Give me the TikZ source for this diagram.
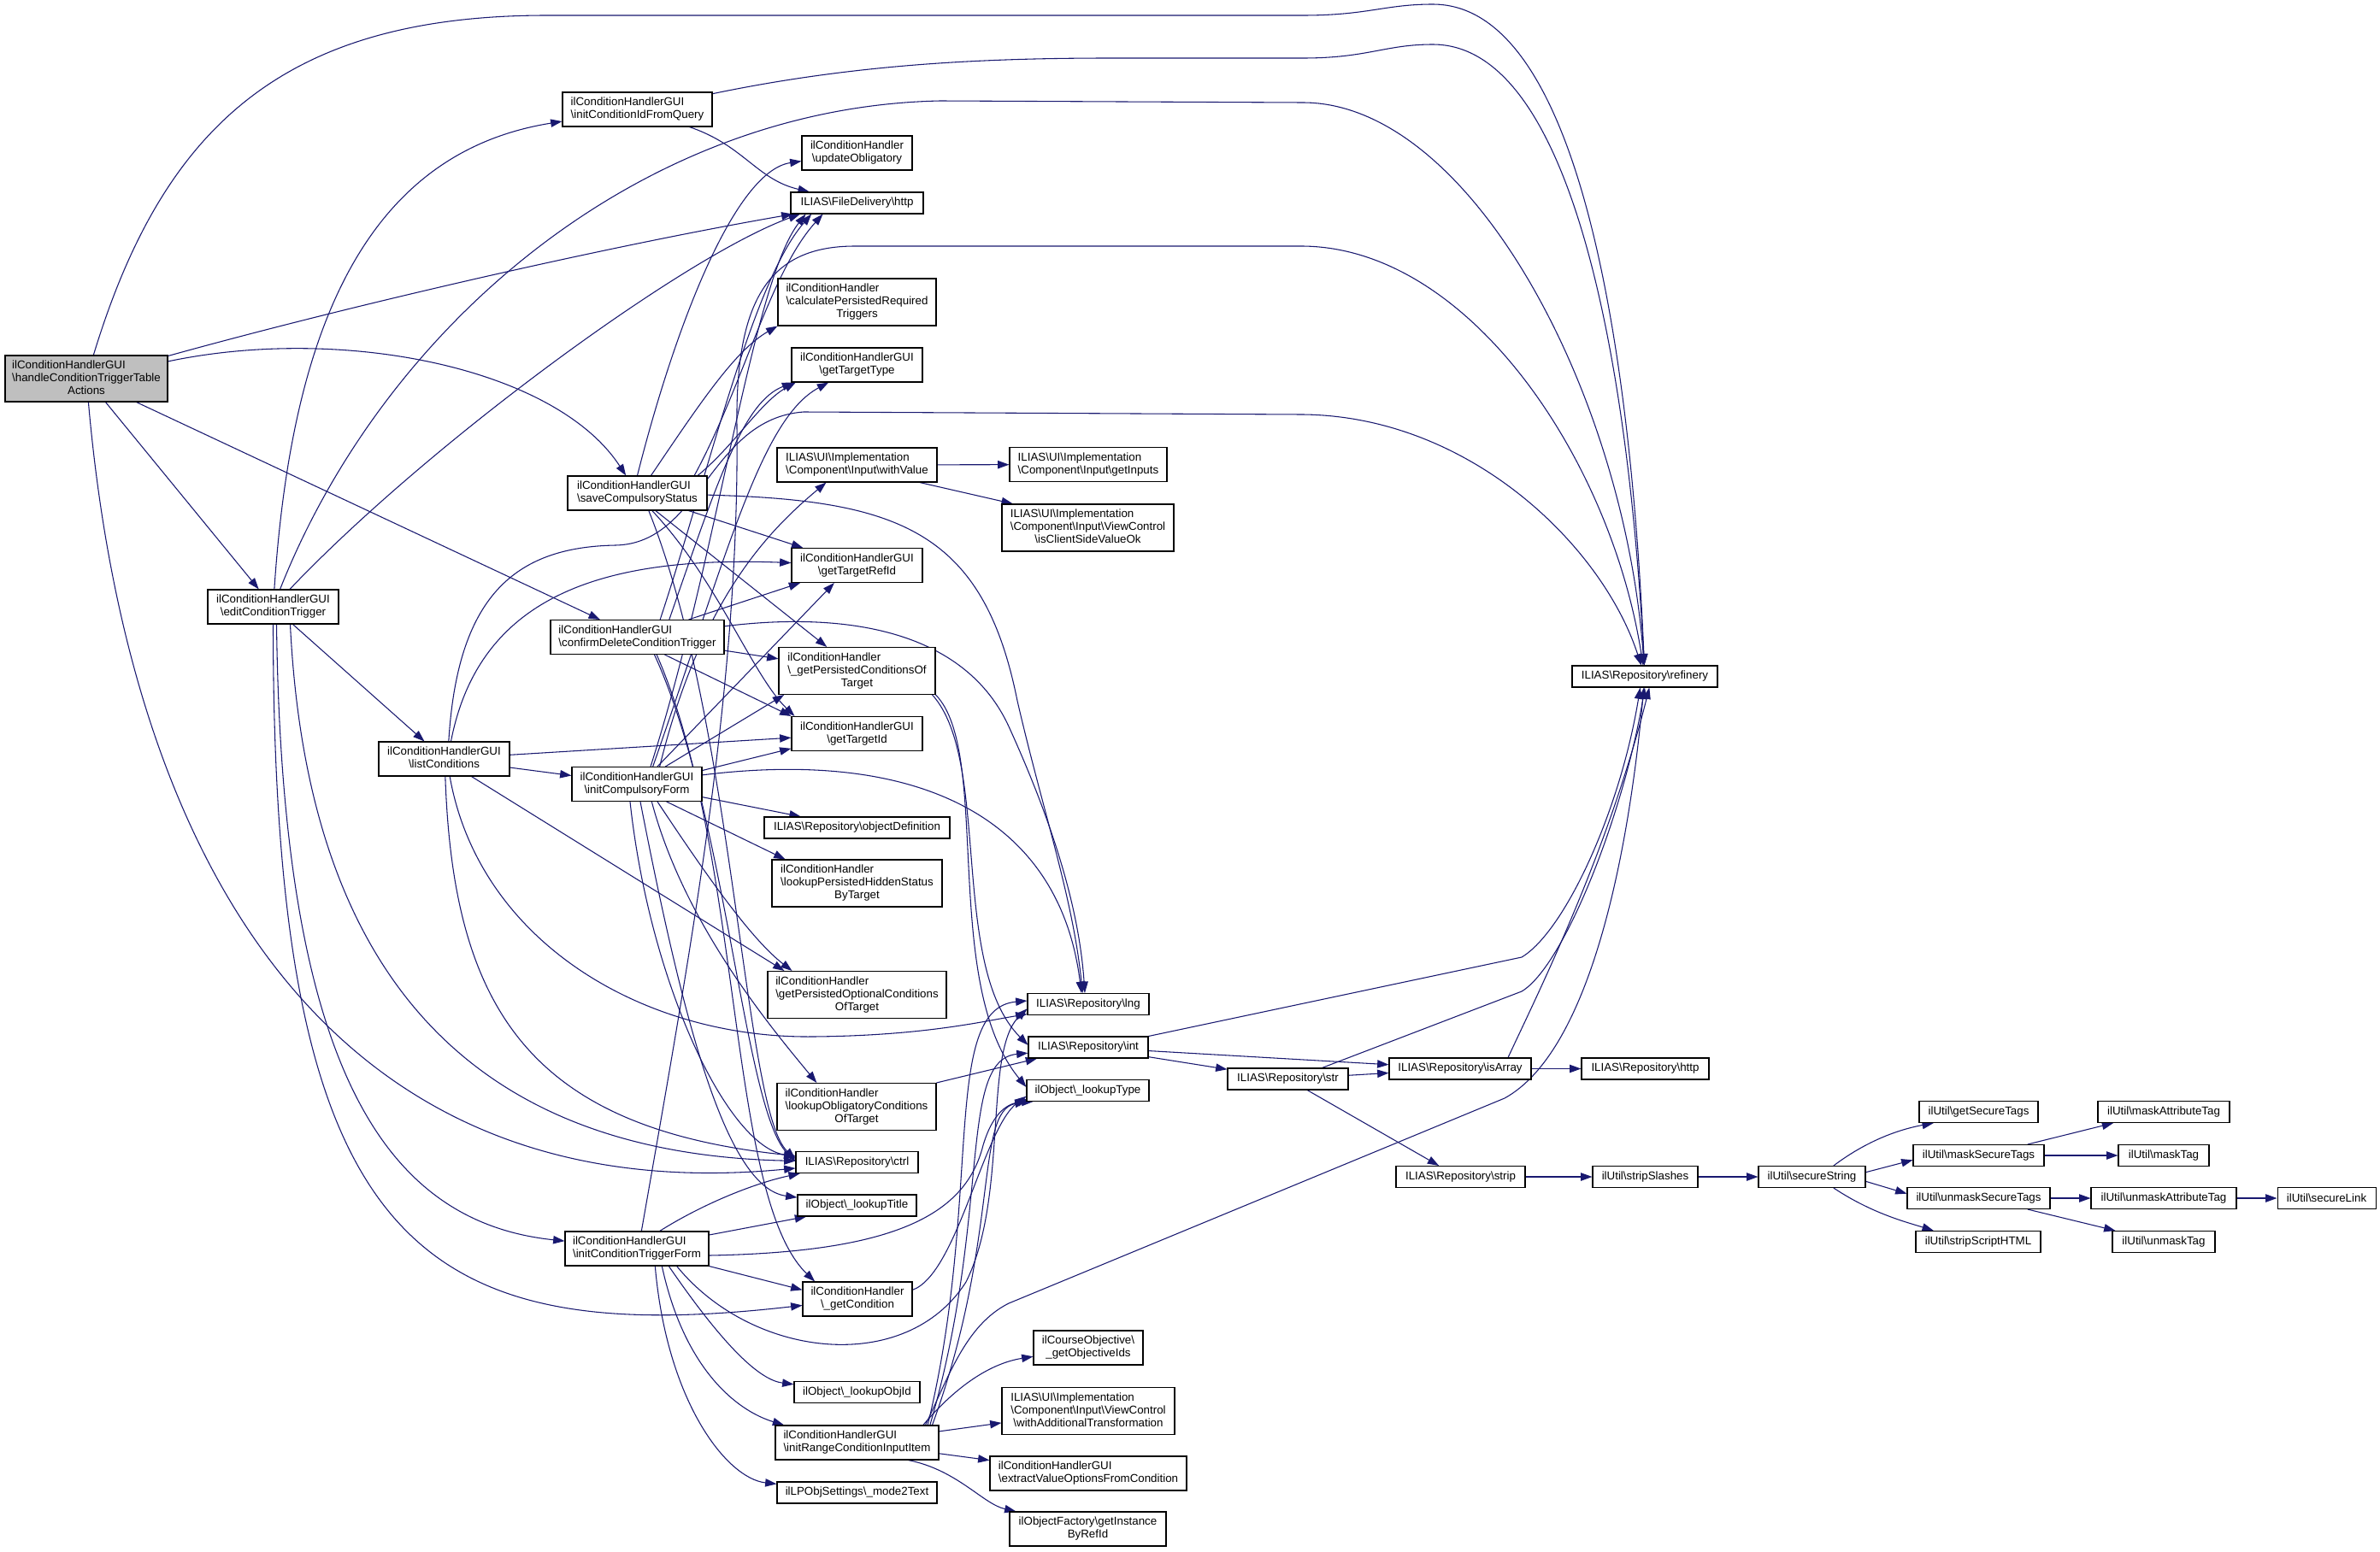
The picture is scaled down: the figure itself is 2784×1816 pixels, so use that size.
\documentclass[tikz,border=0pt]{standalone}
\usepackage{fontspec}
\setmainfont{Liberation Sans}
\usetikzlibrary{arrows.meta}
\pgfdeclarelayer{bg}
\pgfsetlayers{bg,main}
\definecolor{edgecol}{HTML}{191970}
\definecolor{hfill}{HTML}{BFBFBF}
\newcommand{\bsl}{\textbackslash}
\newcommand{\lbltwo}[2]{\begin{tabular}{@{}l@{}}#1\\\multicolumn{1}{@{}c@{}}{#2}\end{tabular}}
\newcommand{\lblthree}[3]{\begin{tabular}{@{}l@{}}#1\\#2\\\multicolumn{1}{@{}c@{}}{#3}\end{tabular}}
\tikzset{
  box/.style={draw=black, line width=0.8pt, inner sep=0pt, fill=white, font=\fontsize{10}{11.25}\selectfont},
  sz/.style 2 args={minimum width=#1*0.75pt, minimum height=#2*0.75pt},
  e/.style={draw=edgecol, line width=0.8pt, -{Triangle[length=10pt,width=7pt]}}
}
\begin{document}
\begin{tikzpicture}[x=0.75pt,y=-0.75pt]
\useasboundingbox (0,0) rectangle (2784,1816);
% nodes
\node[box, sz={190}{54}, fill=hfill] (H) at (101,443) {\lblthree{ilConditionHandlerGUI}{\bsl handleConditionTriggerTable}{Actions}};
\node[box, sz={175}{40}] (Q) at (745.5,128) {\lbltwo{ilConditionHandlerGUI}{\bsl initConditionIdFromQuery}};
\node[box, sz={163}{40}] (S) at (745.5,577) {\lbltwo{ilConditionHandlerGUI}{\bsl saveCompulsoryStatus}};
\node[box, sz={153}{40}] (E) at (319.5,710) {\lbltwo{ilConditionHandlerGUI}{\bsl editConditionTrigger}};
\node[box, sz={203}{40}] (C) at (745.5,745.5) {\lbltwo{ilConditionHandlerGUI}{\bsl confirmDeleteConditionTrigger}};
\node[box, sz={153}{40}] (L) at (519.5,888) {\lbltwo{ilConditionHandlerGUI}{\bsl listConditions}};
\node[box, sz={152}{40}] (F) at (745,917.5) {\lbltwo{ilConditionHandlerGUI}{\bsl initCompulsoryForm}};
\node[box, sz={168}{40}] (T) at (745,1461) {\lbltwo{ilConditionHandlerGUI}{\bsl initConditionTriggerForm}};
\node[box, sz={129}{40}] (upd) at (1002.5,179) {\lbltwo{ilConditionHandler}{\bsl updateObligatory}};
\node[box, sz={155}{25}] (fdh) at (1002.5,237.5) {ILIAS\bsl FileDelivery\bsl http};
\node[box, sz={185}{55}] (calc) at (1002.5,353.5) {\lblthree{ilConditionHandler}{\bsl calculatePersistedRequired}{Triggers}};
\node[box, sz={153}{40}] (gtt) at (1002.5,427) {\lbltwo{ilConditionHandlerGUI}{\bsl getTargetType}};
\node[box, sz={187}{40}] (wv) at (1002.5,544) {\lbltwo{ILIAS\bsl UI\bsl Implementation}{\bsl Component\bsl Input\bsl withValue}};
\node[box, sz={153}{40}] (gtri) at (1002.5,661.5) {\lbltwo{ilConditionHandlerGUI}{\bsl getTargetRefId}};
\node[box, sz={183}{55}] (gpco) at (1002.5,785) {\lblthree{ilConditionHandler}{\bsl \_getPersistedConditionsOf}{Target}};
\node[box, sz={153}{40}] (gti) at (1002.5,858.5) {\lbltwo{ilConditionHandlerGUI}{\bsl getTargetId}};
\node[box, sz={217}{25}] (od) at (1002.5,968.5) {ILIAS\bsl Repository\bsl objectDefinition};
\node[box, sz={199}{55}] (hid) at (1002.5,1033.5) {\lblthree{ilConditionHandler}{\bsl lookupPersistedHiddenStatus}{ByTarget}};
\node[box, sz={209}{55}] (gpopt) at (1002.5,1164) {\lblthree{ilConditionHandler}{\bsl getPersistedOptionalConditions}{OfTarget}};
\node[box, sz={186}{55}] (obl) at (1002,1295) {\lblthree{ilConditionHandler}{\bsl lookupObligatoryConditions}{OfTarget}};
\node[box, sz={143}{25}] (ctrl) at (1002.5,1360) {ILIAS\bsl Repository\bsl ctrl};
\node[box, sz={139}{25}] (ltitle) at (1002.5,1410.5) {ilObject\bsl \_lookupTitle};
\node[box, sz={128}{40}] (gc) at (1003,1520) {\lbltwo{ilConditionHandler}{\bsl \_getCondition}};
\node[box, sz={147}{25}] (loid) at (1002.5,1629) {ilObject\bsl \_lookupObjId};
\node[box, sz={191}{40}] (ir) at (1002.5,1688) {\lbltwo{ilConditionHandlerGUI}{\bsl initRangeConditionInputItem}};
\node[box, sz={187}{25}] (m2t) at (1002.5,1746.5) {ilLPObjSettings\bsl \_mode2Text};
\node[box, sz={184}{40}] (gin) at (1273,543.5) {\lbltwo{ILIAS\bsl UI\bsl Implementation}{\bsl Component\bsl Input\bsl getInputs}};
\node[box, sz={201}{55}] (isc) at (1272.5,617.5) {\lblthree{ILIAS\bsl UI\bsl Implementation}{\bsl Component\bsl Input\bsl ViewControl}{\bsl isClientSideValueOk}};
\node[box, sz={142}{25}] (lng) at (1273,1175) {ILIAS\bsl Repository\bsl lng};
\node[box, sz={140}{25}] (rint) at (1273,1225.5) {ILIAS\bsl Repository\bsl int};
\node[box, sz={143}{25}] (lt) at (1272.5,1276) {ilObject\bsl \_lookupType};
\node[box, sz={128}{40}] (goi) at (1273,1577) {\lbltwo{ilCourseObjective\bsl}{\_getObjectiveIds}};
\node[box, sz={202}{55}] (wat) at (1273,1651) {\lblthree{ILIAS\bsl UI\bsl Implementation}{\bsl Component\bsl Input\bsl ViewControl}{\bsl withAdditionalTransformation}};
\node[box, sz={230}{40}] (evo) at (1273,1724) {\lbltwo{ilConditionHandlerGUI}{\bsl extractValueOptionsFromCondition}};
\node[box, sz={183}{40}] (gii) at (1272.5,1789) {\lbltwo{ilObjectFactory\bsl getInstance}{ByRefId}};
\node[box, sz={141}{25}] (str) at (1506.5,1262.5) {ILIAS\bsl Repository\bsl str};
\node[box, sz={170}{25}] (R) at (1924,791.5) {ILIAS\bsl Repository\bsl refinery};
\node[box, sz={166}{25}] (isa) at (1708,1250.5) {ILIAS\bsl Repository\bsl isArray};
\node[box, sz={151}{25}] (strip) at (1708.5,1377) {ILIAS\bsl Repository\bsl strip};
\node[box, sz={149}{25}] (rh) at (1924.5,1250.5) {ILIAS\bsl Repository\bsl http};
\node[box, sz={123}{25}] (ss) at (1924.5,1377) {ilUtil\bsl stripSlashes};
\node[box, sz={125}{25}] (sec) at (2119.5,1377) {ilUtil\bsl secureString};
\node[box, sz={139}{25}] (gst) at (2314.5,1301) {ilUtil\bsl getSecureTags};
\node[box, sz={153}{25}] (mst) at (2314.5,1352) {ilUtil\bsl maskSecureTags};
\node[box, sz={167}{25}] (ust) at (2314.5,1402) {ilUtil\bsl unmaskSecureTags};
\node[box, sz={146}{25}] (ssh) at (2314,1453) {ilUtil\bsl stripScriptHTML};
\node[box, sz={154}{25}] (mat) at (2531,1301) {ilUtil\bsl maskAttributeTag};
\node[box, sz={106}{25}] (mtag) at (2531,1352) {ilUtil\bsl maskTag};
\node[box, sz={170}{25}] (uat) at (2531,1402) {ilUtil\bsl unmaskAttributeTag};
\node[box, sz={120}{25}] (utag) at (2531,1453) {ilUtil\bsl unmaskTag};
\node[box, sz={115}{25}] (sl) at (2721.5,1402) {ilUtil\bsl secureLink};
\begin{pgfonlayer}{bg}
\fill[white] (0,0) rectangle (2784,1816);
% handle
\draw[e] (H) .. controls (190,150) and (330,18) .. (640,18) -- (1524,18) .. controls (1600,18) and (1620,5) .. (1676,5) .. controls (1850,5) and (1908,420) .. (R);
\draw[e] (H) .. controls (400,360) and (700,290) .. (fdh);
\draw[e] (H) .. controls (400,380) and (650,430) .. (S);
\draw[e] (H) -- (C);
\draw[e] (H) -- (E);
\draw[e] (H) .. controls (150,1000) and (380,1420) .. (ctrl);
% initConditionIdFromQuery
\draw[e] (Q) .. controls (1000,75) and (1150,68) .. (1300,68) -- (1524,68) .. controls (1600,68) and (1620,52) .. (1676,52) .. controls (1840,52) and (1905,430) .. (R);
\draw[e] (Q) .. controls (870,170) and (885,210) .. (fdh);
% editConditionTrigger
\draw[e] (E) .. controls (340,400) and (420,180) .. (Q);
\draw[e] (E) .. controls (450,380) and (750,125) .. (1100,118) -- (1524,120) .. controls (1720,120) and (1900,460) .. (R);
\draw[e] (E) .. controls (500,520) and (800,300) .. ([xshift=-50pt]fdh.south);
\draw[e] (E) -- (L);
\draw[e] ([xshift=15pt]E.south) .. controls (360,1150) and (560,1350) .. (ctrl);
\draw[e] ([xshift=3pt]E.south) .. controls (330,1250) and (450,1430) .. (T);
\draw[e] (E.south) .. controls (320,1450) and (480,1580) .. (gc);
% listConditions
\draw[e] ([xshift=4pt]L.north) .. controls (535,700) and (600,640) .. (720,638) .. controls (820,636) and (830,490) .. (940,482) -- (1524,485) .. controls (1720,487) and (1875,640) .. (R);
\draw[e] ([xshift=6pt]L.north) .. controls (560,700) and (700,650) .. (gtri);
\draw[e] (L) -- (gti);
\draw[e] (L) -- (F);
\draw[e] ([xshift=1pt]L.south) .. controls (530,1180) and (620,1320) .. (ctrl);
\draw[e] ([xshift=5pt]L.south) .. controls (560,1100) and (750,1215) .. (950,1213) .. controls (1080,1212) and (1150,1195) .. (lng);
\draw[e] ([xshift=24pt]L.south) -- ([xshift=15pt]gpopt.north west);
% saveCompulsoryStatus
\draw[e] (S.north) .. controls (790,380) and (860,200) .. (upd);
\draw[e] ([xshift=12pt]S.north) .. controls (820,470) and (860,410) .. (calc.south west);
\draw[e] ([xshift=50pt]S.north) .. controls (870,450) and (900,320) .. ([xshift=-30pt]fdh.south);
\draw[e] ([xshift=53pt]S.north) .. controls (860,520) and (890,470) .. ([xshift=4pt]gtt.south west);
\draw[e] (S) .. controls (1050,585) and (1150,620) .. (1190,820) .. controls (1220,950) and (1255,1050) .. ([xshift=-5pt]lng.north);
\draw[e] ([xshift=45pt]S.south) -- (gtri);
\draw[e] ([xshift=16pt]S.south) -- (gpco);
\draw[e] ([xshift=13pt]S.south) .. controls (840,680) and (880,790) .. ([xshift=3pt]gti.north west);
\draw[e] ([xshift=10pt]S.south) .. controls (860,850) and (870,1300) .. ([yshift=3pt]ctrl.west);
% confirmDeleteConditionTrigger
\draw[e] ([xshift=20pt]C.north) .. controls (830,550) and (880,330) .. ([xshift=-40pt]fdh.south);
\draw[e] ([xshift=28pt]C.north) .. controls (840,560) and (870,470) .. ([xshift=2pt]gtt.south west);
\draw[e] ([xshift=45pt]C.north) -- ([xshift=8pt]gtri.south west);
\draw[e] (C) .. controls (950,720) and (1120,720) .. (1180,850) .. controls (1230,960) and (1262,1060) .. ([xshift=-3pt]lng.north);
\draw[e] (C) -- (gpco);
\draw[e] ([xshift=24pt]C.south) -- (gti.north west);
\draw[e] ([xshift=15pt]C.south) .. controls (850,950) and (870,1300) .. ([yshift=1pt]ctrl.west);
\draw[e] ([xshift=17pt]C.south) .. controls (870,1000) and (850,1400) .. ([xshift=11pt]gc.north west);
% initCompulsoryForm
\draw[e] ([xshift=12pt]F.north) .. controls (840,650) and (880,330) .. ([xshift=-45pt]fdh.south);
\draw[e] ([xshift=14pt]F.north) .. controls (850,650) and (890,490) .. ([xshift=-25pt]gtt.south);
\draw[e] ([xshift=18pt]F.north) -- ([xshift=-20pt]gtri.south);
\draw[e] ([xshift=25pt]F.north) -- ([xshift=-64pt]gpco.south);
\draw[e] ([xshift=20pt]F.north) .. controls (820,700) and (900,620) .. ([xshift=-27pt]wv.south);
\draw[e] ([yshift=12pt]F.east) -- ([yshift=-13pt]gti.west);
\draw[e] ([yshift=8pt]F.east) .. controls (1080,875) and (1240,960) .. ([xshift=-6pt]lng.north);
\draw[e] (F) -- (od);
\draw[e] ([xshift=26pt]F.south) -- ([xshift=-63pt]hid.north);
\draw[e] ([xshift=18pt]F.south) .. controls (830,1030) and (880,1100) .. ([xshift=-57pt]gpopt.north);
\draw[e] ([xshift=13pt]F.south) .. controls (800,1080) and (900,1200) .. ([xshift=-35pt]obl.north);
\draw[e] ([xshift=-6pt]F.south) .. controls (760,1150) and (850,1340) .. ([yshift=5pt]ctrl.west);
\draw[e] ([xshift=3pt]F.south) .. controls (800,1200) and (850,1390) .. (ltitle);
% initConditionTriggerForm
\draw[e] ([xshift=4pt]T.north) .. controls (810,1100) and (865,800) .. (862,500) .. controls (860,350) and (900,288) .. (1000,288) -- (1524,288) .. controls (1720,290) and (1885,540) .. (R);
\draw[e] ([xshift=20pt]T.north) .. controls (820,1410) and (880,1385) .. ([xshift=4pt]ctrl.south west);
\draw[e] ([yshift=12pt]T.east) -- ([xshift=8pt]ltitle.south west);
\draw[e] ([yshift=-6pt]T.east) .. controls (1050,1465) and (1130,1420) .. (1150,1340) .. controls (1162,1300) and (1180,1290) .. ([xshift=6pt]lt.south west);
\draw[e] (T.south east) -- ([yshift=8pt]gc.west);
\draw[e] ([xshift=28pt]T.south) .. controls (850,1580) and (890,1615) .. (loid);
\draw[e] ([xshift=22pt]T.south) .. controls (800,1600) and (860,1650) .. ([xshift=8pt]ir.north west);
\draw[e] ([xshift=16pt]T.south) .. controls (780,1640) and (850,1730) .. (m2t);
\draw[e] ([xshift=35pt]T.south) .. controls (880,1590) and (1060,1610) .. (1130,1500) .. controls (1180,1400) and (1150,1230) .. ([yshift=-4pt]lng.west);
% lower middle
\draw[e] (gpco.south east) .. controls (1160,880) and (1100,1150) .. ([yshift=3pt]lt.west);
\draw[e] ([xshift=-3pt]gpco.south east) .. controls (1160,890) and (1110,1130) .. ([yshift=2pt]rint.west);
\draw[e] (obl.north east) -- ([xshift=8pt]rint.south west);
\draw[e] ([yshift=8pt]gc.east) .. controls (1120,1490) and (1150,1320) .. ([yshift=-5pt]lt.west);
\draw[e] (wv) -- (gin);
\draw[e] ([xshift=55pt]wv.south) -- ([xshift=10pt]isc.north west);
% initRangeConditionInputItem
\draw[e] ([xshift=60pt]ir.north) .. controls (1110,1610) and (1130,1550) .. (1180,1525) -- (1760,1285) .. controls (1860,1230) and (1905,1000) .. (R);
\draw[e] ([xshift=58pt]ir.north) .. controls (1120,1620) and (1160,1595) .. (goi);
\draw[e] (ir) -- (wat);
\draw[e] (ir) -- (evo);
\draw[e] ([xshift=45pt]ir.south) .. controls (1120,1720) and (1150,1760) .. ([xshift=6pt]gii.north west);
\draw[e] ([xshift=62pt]ir.north) .. controls (1150,1400) and (1100,1180) .. ([yshift=3pt]lng.west);
\draw[e] ([xshift=64pt]ir.north) .. controls (1160,1420) and (1120,1240) .. (rint);
\draw[e] ([xshift=66pt]ir.north) .. controls (1170,1450) and (1140,1300) .. (lt);
% repository
\draw[e] (rint) -- (isa);
\draw[e] (rint) -- (str);
\draw[e] (rint.north east) -- (1780,1120) .. controls (1830,1090) and (1895,950) .. ([xshift=-4pt]R.south);
\draw[e] ([xshift=30pt]str.north) -- (1780,1160) .. controls (1830,1130) and (1900,950) .. (R.south);
\draw[e] (str) -- (isa);
\draw[e] ([xshift=17pt]str.south) -- ([xshift=-19pt]strip.north);
\draw[e] ([xshift=42pt]isa.north) .. controls (1800,1160) and (1880,1000) .. ([xshift=4pt]R.south);
\draw[e] (isa) -- (rh);
\draw[e] (strip) -- (ss);
\draw[e] (ss) -- (sec);
% ilUtil
\draw[e] ([xshift=19pt]sec.north) .. controls (2190,1330) and (2230,1320) .. ([xshift=13pt]gst.south west);
\draw[e] ([yshift=4pt]sec.east) -- ([yshift=-4pt]mst.west);
\draw[e] ([yshift=-4pt]sec.east) -- ([yshift=4pt]ust.west);
\draw[e] ([xshift=19pt]sec.south) .. controls (2190,1420) and (2230,1430) .. ([xshift=16pt]ssh.north west);
\draw[e] ([xshift=43pt]mst.north) -- ([xshift=14pt]mat.south west);
\draw[e] (mst) -- (mtag);
\draw[e] (ust) -- (uat);
\draw[e] ([xshift=43pt]ust.south) -- ([xshift=3pt]utag.north west);
\draw[e] (uat) -- (sl);
\end{pgfonlayer}
\end{tikzpicture}
\end{document}
